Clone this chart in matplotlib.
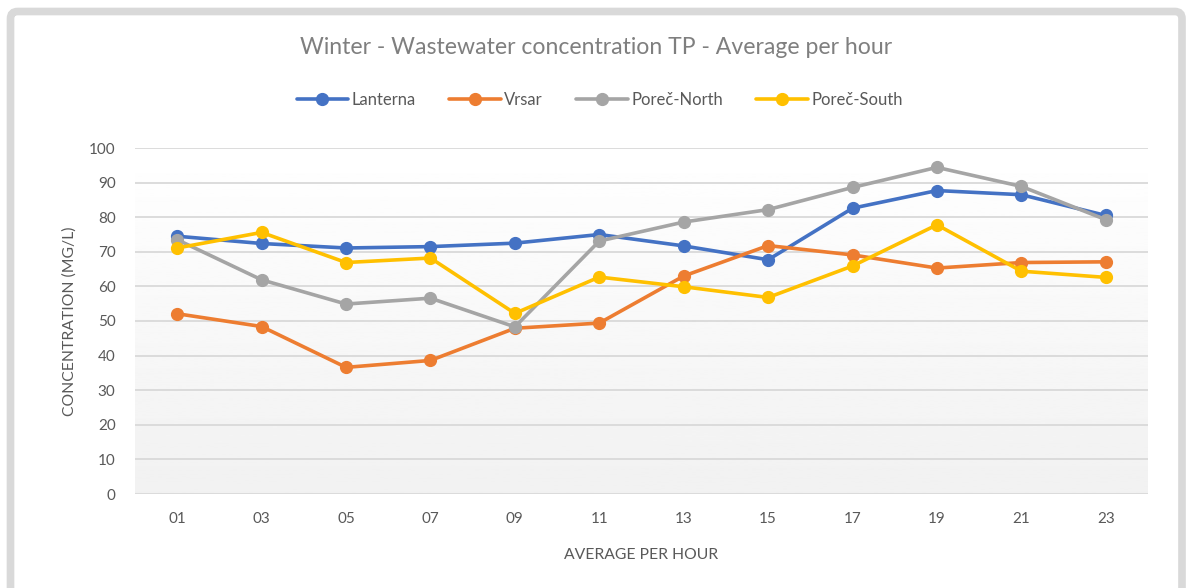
import numpy as np
import matplotlib.pyplot as plt
from matplotlib.patches import FancyBboxPatch

hours = ['01', '03', '05', '07', '09', '11', '13', '15', '17', '19', '21', '23']
lanterna = [74.5, 72.4, 71.1, 71.5, 72.5, 75.0, 71.7, 67.7, 82.6, 87.7, 86.5, 80.5]
vrsar = [52.1, 48.4, 36.6, 38.6, 47.9, 49.4, 63.0, 71.8, 69.1, 65.3, 66.9, 67.1]
porec_north = [73.5, 61.9, 54.9, 56.6, 48.3, 73.1, 78.6, 82.2, 88.6, 94.4, 88.9, 79.3]
porec_south = [71.1, 75.6, 66.9, 68.2, 52.2, 62.7, 59.9, 56.8, 65.9, 77.8, 64.4, 62.6]

series = [
    ('Lanterna', lanterna, '#4472C4'),
    ('Vrsar', vrsar, '#ED7D31'),
    ('Poreč-North', porec_north, '#A5A5A5'),
    ('Poreč-South', porec_south, '#FFC000'),
]

plt.rcParams['font.family'] = ['Lato', 'DejaVu Sans']

fig = plt.figure(figsize=(11.92, 5.88), dpi=100)
ax = fig.add_axes([135 / 1192, 94 / 588, 1013 / 1192, 346 / 588])

# background gradient, white at top to light gray at bottom
grad = np.linspace(1.0, 0.945, 256).reshape(-1, 1)
ax.imshow(grad, extent=[0, 1, 0, 1], transform=ax.transAxes, aspect='auto',
          cmap='gray', vmin=0, vmax=1, zorder=0)

x = np.arange(len(hours))
for name, vals, col in series:
    ax.plot(x, vals, color=col, lw=2.6, marker='o', ms=8.5, label=name,
            solid_capstyle='round', zorder=3)

ax.set_xlim(-0.5, len(hours) - 0.5)
ax.set_ylim(0, 100)
ax.set_yticks(range(0, 101, 10))
ax.set_xticks(x)
ax.set_xticklabels(hours)
ax.grid(axis='y', color='#d9d9d9', lw=1.3, zorder=1)
ax.set_axisbelow(True)
for s in ax.spines.values():
    s.set_visible(False)
ax.tick_params(length=0, labelsize=11, labelcolor='#595959')
ax.tick_params(axis='x', pad=13)
ax.tick_params(axis='y', pad=14)

ax.set_ylabel('CONCENTRATION (MG/L)', fontsize=11.3, color='#595959', labelpad=9)
ax.set_xlabel('AVERAGE PER HOUR', fontsize=11.3, color='#595959', labelpad=16)

fig.text(0.5, 1 - 47 / 588, 'Winter - Wastewater concentration TP - Average per hour',
         ha='center', va='center', fontsize=16.6, color='#7f7f7f')

fig.legend(loc='center', bbox_to_anchor=(0.503, 1 - 100 / 588), ncol=4, frameon=False,
           fontsize=12, handlelength=3.1, columnspacing=2.0, handletextpad=0.2,
           labelcolor='#595959')

# outer chart frame
frame = FancyBboxPatch((10.5 / 1192, -0.1), 1171.5 / 1192, 1.1 - 11.5 / 588,
                       boxstyle='round,pad=0,rounding_size=0.006',
                       transform=fig.transFigure, fill=False, ec='#d9d9d9', lw=5.5,
                       mutation_aspect=1192 / 588)
fig.patches.append(frame)

fig.savefig('out.png', dpi=100, facecolor='white')
